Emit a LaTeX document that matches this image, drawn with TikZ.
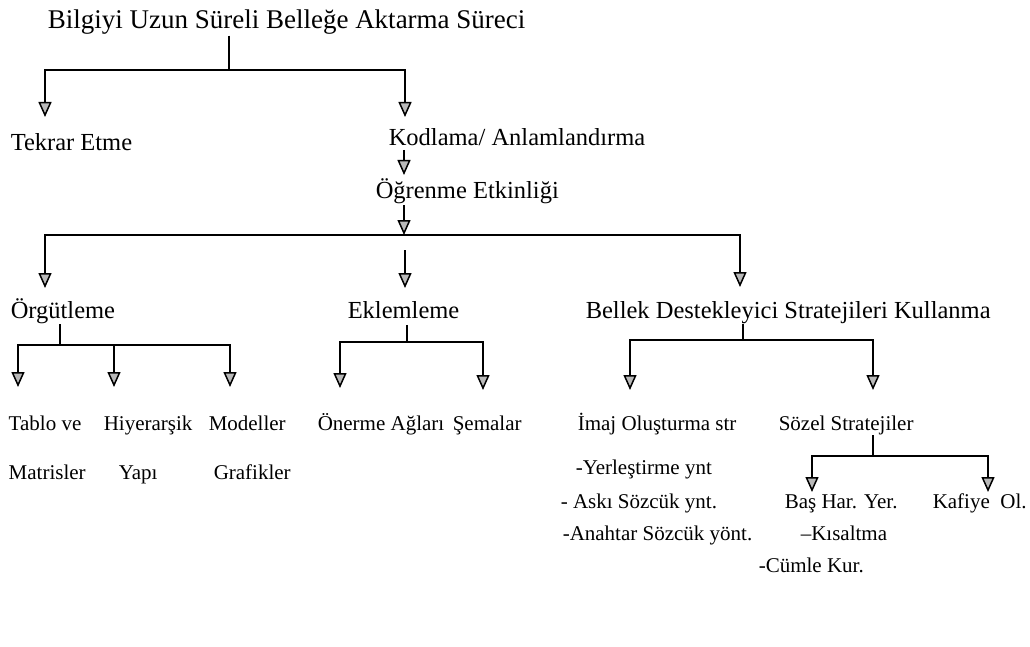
\documentclass[tikz,border=0pt]{standalone}
\usepackage{fontspec}
\setmainfont{Liberation Serif}
\usepackage{tikz}
\usetikzlibrary{arrows.meta}

\tikzset{
  txt/.style={anchor=base west, inner sep=0pt, font=\fontsize{24.5}{27}\selectfont},
  head/.style={txt, font=\fontsize{27}{30}\selectfont},
  sml/.style={txt, font=\fontsize{21}{23}\selectfont},
  arr/.style={-{Triangle[width=13pt,length=15pt,fill=gray!55,line width=1.5pt]}},
}

\begin{document}
\begin{tikzpicture}[x=1pt, y=-1pt, line width=1.5pt]
  \useasboundingbox (0,0) rectangle (1030,647);

  % Levels
  \node[head] (title) at (47,29) {Bilgiyi Uzun Süreli Belleğe Aktarma Süreci};
  \node[txt] (tekrar) at (10,151) {Tekrar Etme};
  \node[txt] (kodlama) at (388,146) {Kodlama/ Anlamlandırma};
  \node[txt] (ogrenme) at (375,199) {Öğrenme Etkinliği};
  \node[txt] (orgut) at (10,318) {Örgütleme};
  \node[txt] (eklem) at (347,318) {Eklemleme};
  \node[txt] (bellek) at (585,318) {Bellek Destekleyici Stratejileri Kullanma};

  % Leaves
  \node[sml] (tablo) at (8,430) {Tablo ve};
  \node[sml] (matris) at (8,479) {Matrisler};
  \node[sml] (hiyer) at (103,430) {Hiyerarşik};
  \node[sml] (yapi) at (118,479) {Yapı};
  \node[sml] (model) at (208,430) {Modeller};
  \node[sml] (grafik) at (213,479) {Grafikler};
  \node[sml] (onerme) at (317,430) {Önerme Ağları};
  \node[sml] (sema) at (452,430) {Şemalar};
  \node[sml] (imaj) at (577,430) {İmaj Oluşturma str};
  \node[sml] (sozel) at (778,430) {Sözel Stratejiler};
  \node[sml] (yerles) at (575,474) {-Yerleştirme ynt};
  \node[sml] (aski) at (560,508) {- Askı Sözcük ynt.};
  \node[sml] (anahtar) at (562,540) {-Anahtar Sözcük yönt.};
  \node[sml] (bas) at (784,508) {Baş Har. Yer.};
  \node[sml] (kafiye) at (932,508) {Kafiye\enspace Ol.};
  \node[sml] (kisalt) at (800,540) {--Kısaltma};
  \node[sml] (cumle) at (758,572) {-Cümle Kur.};

  % Junctions and arrow tips
  \coordinate (j1) at (229,70);
  \coordinate (t1) at (45,117);
  \coordinate (t2) at (405,117);
  \coordinate (t3) at (404,175);
  \coordinate (j2) at (404,235);
  \coordinate (t4) at (45,288);
  \coordinate (s5) at (405,250);
  \coordinate (t5) at (405,288);
  \coordinate (t6) at (740,287);
  \coordinate (j3) at (60,345);
  \coordinate (t7) at (18,387);
  \coordinate (t8) at (114,387);
  \coordinate (t9) at (230,387);
  \coordinate (j4) at (407,342);
  \coordinate (t10) at (340,388);
  \coordinate (t11) at (483,390);
  \coordinate (j5) at (743,340);
  \coordinate (t12) at (630,390);
  \coordinate (t13) at (873,390);
  \coordinate (j6) at (873,456);
  \coordinate (t14) at (812,492);
  \coordinate (t15) at (988,492);

  % Tree
  \draw (title.south -| j1) -- (j1);
  \draw[arr] (j1) -| (t1);
  \draw[arr] (j1) -| (t2);
  \draw[arr] ([yshift=-3pt]kodlama.south -| t3) -- (t3);
  \draw[arr] (ogrenme.south -| j2) -- (j2);
  \draw[arr] (j2) -| (t4);
  \draw[arr] (s5) -- (t5);
  \draw[arr] (j2) -| (t6);

  \draw (orgut.south -| j3) -- (j3);
  \draw[arr] (j3) -| (t7);
  \draw[arr] (j3) -| (t8);
  \draw[arr] (j3) -| (t9);

  \draw ([yshift=-6pt]eklem.south -| j4) -- (j4);
  \draw[arr] (j4) -| (t10);
  \draw[arr] (j4) -| (t11);

  \draw (bellek.south -| j5) -- (j5);
  \draw[arr] (j5) -| (t12);
  \draw[arr] (j5) -| (t13);

  \draw (sozel.south -| j6) -- (j6);
  \draw[arr] (j6) -| (t14);
  \draw[arr] (j6) -| (t15);
\end{tikzpicture}
\end{document}
